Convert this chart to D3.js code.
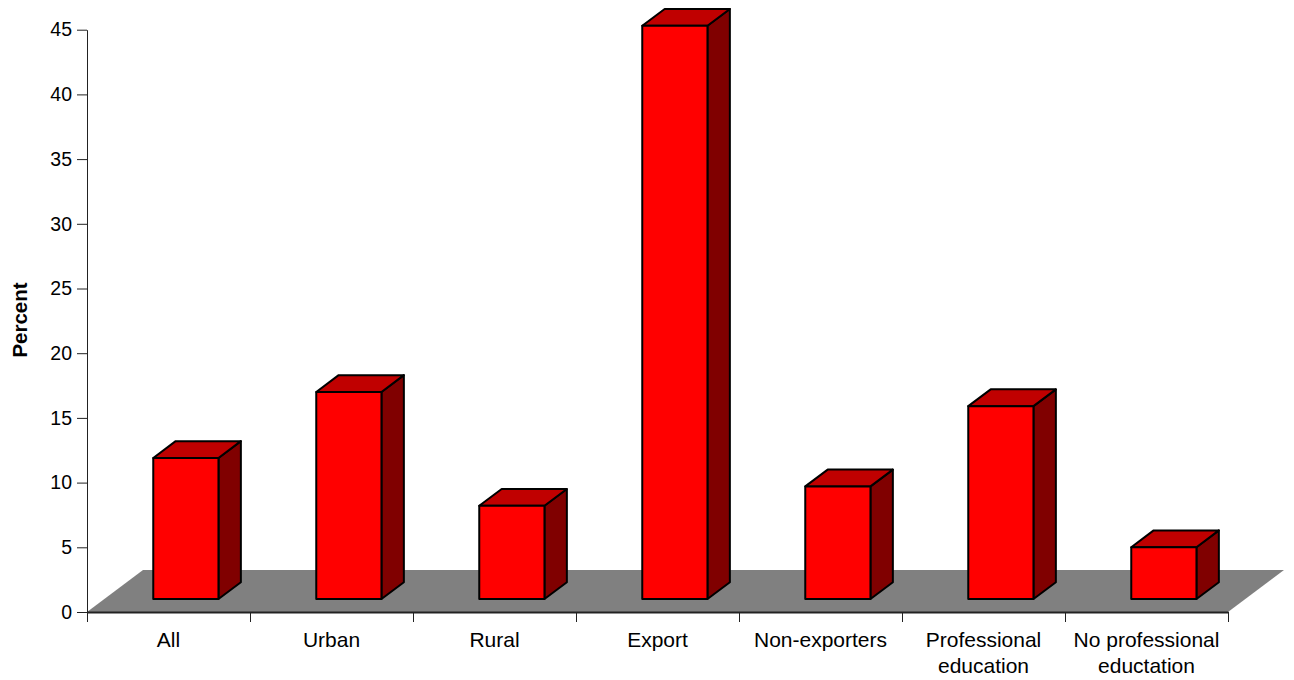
<!DOCTYPE html>
<html>
<head>
<meta charset="utf-8">
<script src="https://cdn.jsdelivr.net/npm/d3@7"></script>
<style>
  body { margin: 0; background: #fff; }
  svg { display: block; }
  text { font-family: "Liberation Sans", Arial, sans-serif; fill: #000; }
</style>
</head>
<body>
<svg id="chart" width="1294" height="680"></svg>
<script>
// Share of firms per group (percent)
const categories = ["All", "Urban", "Rural", "Export", "Non-exporters", "Professional\neducation", "No professional\neductation"];
const percentValues = [10.9, 16.0, 7.2, 44.3, 8.7, 14.9, 4.0];
const yTicks = [0, 5, 10, 15, 20, 25, 30, 35, 40, 45];
const yTitle = "Percent";

const svg = d3.select("#chart");

const plotLeft = 87, plotRight = 1228, plotBottom = 612, plotTop = 29.7;
const x = d3.scaleBand().domain(categories).range([plotLeft, plotRight]);
const y = d3.scaleLinear().domain([0, 45]).range([plotBottom, plotTop]);

// oblique projection for the depth axis
const depthDx = 56, depthDy = 42;
const proj = (px, py, f) => [px + f * depthDx, py - f * depthDy];
const pts = arr => arr.map(p => p.join(",")).join(" ");

// floor
svg.append("polygon")
  .attr("points", pts([proj(plotLeft, plotBottom, 0), proj(plotRight, plotBottom, 0), proj(plotRight, plotBottom, 1), proj(plotLeft, plotBottom, 1)]))
  .attr("fill", "#808080");

// bars as boxes
const f0 = 0.31, f1 = 0.71;
const bw = x.bandwidth();
const bars = svg.append("g").selectAll("g")
  .data(categories.map((c, i) => ({ c, v: percentValues[i] })))
  .join("g")
  .attr("stroke", "#000")
  .attr("stroke-width", 2)
  .attr("stroke-linejoin", "round");

bars.each(function (d) {
  const g = d3.select(this);
  const x0 = x(d.c) + bw * 0.3, x1 = x0 + bw * 0.4;
  const yb = y(0), yt = y(d.v);
  const FLB = proj(x0, yb, f0), FRB = proj(x1, yb, f0), FRT = proj(x1, yt, f0), FLT = proj(x0, yt, f0);
  const BRB = proj(x1, yb, f1), BRT = proj(x1, yt, f1), BLT = proj(x0, yt, f1);
  g.append("polygon").attr("points", pts([FRB, FRT, BRT, BRB])).attr("fill", "#800000");
  g.append("polygon").attr("points", pts([FLT, FRT, BRT, BLT])).attr("fill", "#C00000");
  g.append("polygon").attr("points", pts([FLB, FRB, FRT, FLT])).attr("fill", "#FF0000");
});

// value axis
const yAxis = svg.append("g")
  .attr("transform", `translate(${plotLeft},0)`)
  .call(d3.axisLeft(y).tickValues(yTicks).tickSize(10).tickSizeOuter(0).tickPadding(5));
yAxis.select(".domain").attr("stroke", "#222");
yAxis.selectAll(".tick line").attr("stroke", "#222");
yAxis.selectAll(".tick text").attr("font-size", 19.5).attr("font-family", "Liberation Sans, Arial, sans-serif").attr("fill", "#000");

// category axis: ticks at band edges
const edges = d3.scaleLinear().domain([0, categories.length]).range([plotLeft, plotRight]);
const xAxis = svg.append("g")
  .attr("transform", `translate(0,${plotBottom})`)
  .call(d3.axisBottom(edges).tickValues(d3.range(categories.length + 1)).tickSize(10).tickSizeOuter(0).tickFormat(""));
xAxis.select(".domain").attr("stroke", "#222").attr("stroke-width", 2);
xAxis.selectAll(".tick line").attr("stroke", "#222");

// category labels
const labels = svg.append("g").selectAll("text")
  .data(categories)
  .join("text")
  .attr("x", d => x(d) + bw / 2)
  .attr("y", 647)
  .attr("text-anchor", "middle")
  .attr("font-size", 21);
labels.selectAll("tspan")
  .data(d => d.split("\n"))
  .join("tspan")
  .attr("x", function () { return d3.select(this.parentNode).attr("x"); })
  .attr("dy", (d, i) => i === 0 ? 0 : 26)
  .text(d => d);

// axis title
svg.append("text")
  .attr("transform", "translate(26.5,320) rotate(-90)")
  .attr("text-anchor", "middle")
  .attr("font-size", 20.5)
  .attr("font-weight", "bold")
  .text(yTitle);
</script>
</body>
</html>
